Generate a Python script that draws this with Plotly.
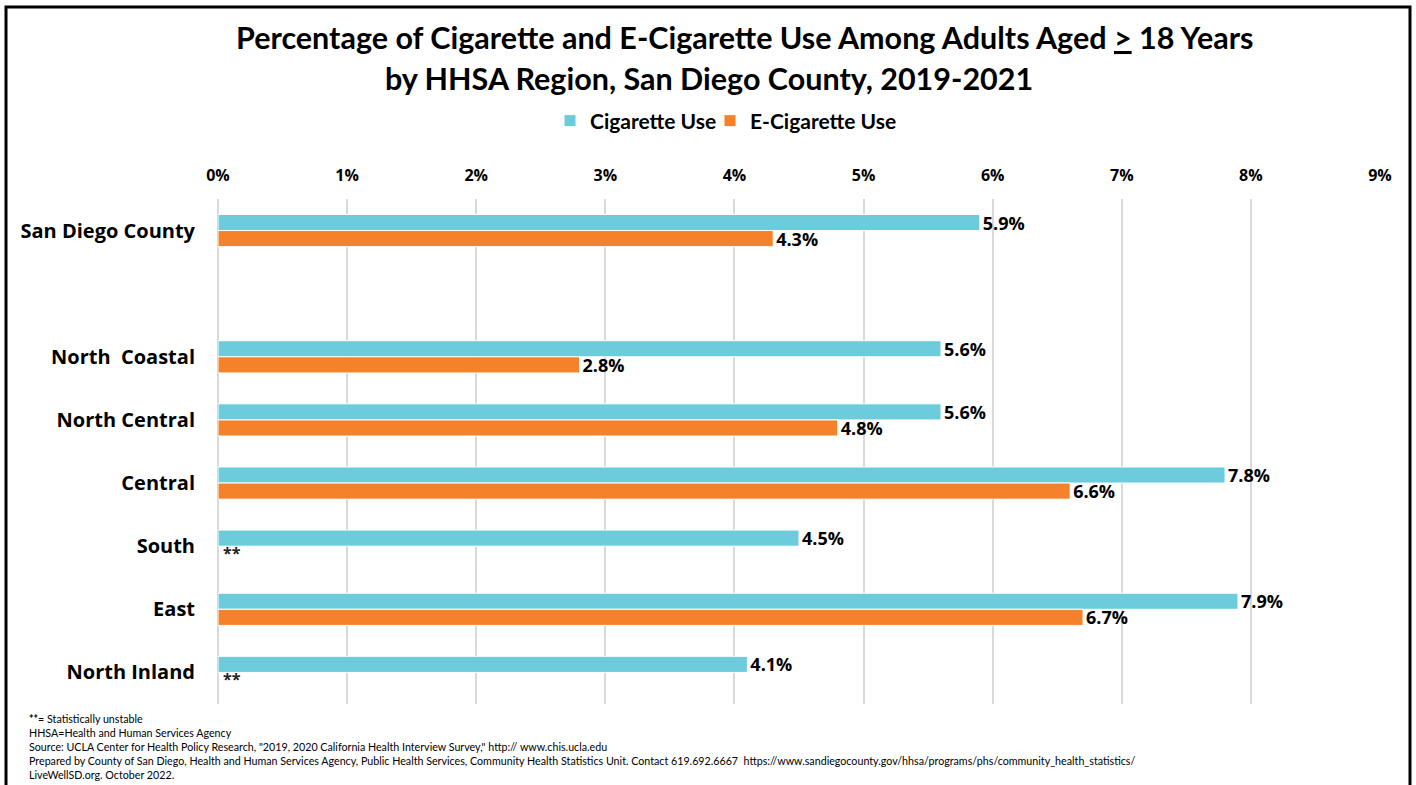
import plotly.graph_objects as go

# ---------------- data ----------------
categories = ["San Diego County", " ", "North\u00a0 Coastal", "North Central",
              "Central", "South", "East", "North Inland"]
cigarette_use = [5.9, None, 5.6, 5.6, 7.8, 4.5, 7.9, 4.1]
ecigarette_use = [4.3, None, 2.8, 4.8, 6.6, None, 6.7, None]
unstable_ecig = [False, False, False, False, False, True, False, True]
tick_values = [0, 1, 2, 3, 4, 5, 6, 7, 8, 9]
tick_labels = ["0%", "1%", "2%", "3%", "4%", "5%", "6%", "7%", "8%", "9%"]
series_names = ["Cigarette Use", "E-Cigarette Use"]

footnotes = [
    "<b>**</b>= Statistically unstable",
    "HHSA=Health and Human Services Agency",
    "Source: UCLA Center for Health Policy Research, \"2019, 2020 California Health Interview Survey,\" http:// www.chis.ucla.edu",
    "Prepared by County of San Diego, Health and Human Services Agency, Public Health Services, Community Health Statistics Unit. Contact 619.692.6667&nbsp; https://www.sandiegocounty.gov/hhsa/programs/phs/community_health_statistics/",
    "LiveWellSD.org. October 2022.",
]

# ---------------- layout geometry (pixels) ----------------
W, H = 1416, 785
ML, MR, MT, MB = 218, 36, 199, 81
PW, PH = W - ML - MR, H - MT - MB


def px(x):
    return (x - ML) / PW


def py(y):
    return (H - MB - y) / PH


CYAN = "#6DCCDC"
ORANGE = "#F5822A"
TITLE_FONT = "Lato, Carlito, sans-serif"
LABEL_FONT = "Open Sans, sans-serif"


def fmt(v):
    return "" if v is None else f"{v}%"


fig = go.Figure()
for name, vals, col, leg in [(series_names[0], cigarette_use, CYAN, "legend"),
                             (series_names[1], ecigarette_use, ORANGE, "legend2")]:
    fig.add_trace(go.Bar(
        y=categories, x=vals, orientation="h", name=name, legend=leg,
        marker=dict(color=col, line=dict(color="white", width=1)),
        text=[fmt(v) for v in vals], textposition="outside",
        constraintext="none",
        textfont=dict(family=LABEL_FONT, size=18, color="black", weight="bold"),
        cliponaxis=False,
    ))

annotations = []
for cat, flag in zip(categories, unstable_ecig):
    if flag:
        annotations.append(dict(
            x=0, y=cat, xref="x", yref="y", text="**", showarrow=False,
            xanchor="left", yanchor="middle", xshift=3, yshift=-7,
            font=dict(family=LABEL_FONT, size=16, color="#222", weight="bold"),
        ))

annotations.append(dict(
    x=px(744), y=py(37), xref="paper", yref="paper", showarrow=False,
    xanchor="center", yanchor="middle",
    text="<b>Percentage of Cigarette and E-Cigarette Use Among Adults Aged <u>&gt;</u> 18 Years</b>",
    font=dict(family=TITLE_FONT, size=30.5, color="black"),
))
annotations.append(dict(
    x=px(709), y=py(78), xref="paper", yref="paper", showarrow=False,
    xanchor="center", yanchor="middle",
    text="<b>by HHSA Region, San Diego County, 2019-2021</b>",
    font=dict(family=TITLE_FONT, size=30.5, color="black"),
))
annotations.append(dict(
    x=px(27), y=py(710), xref="paper", yref="paper", showarrow=False,
    xanchor="left", yanchor="top", align="left",
    text="<br>".join(footnotes),
    font=dict(family=TITLE_FONT, size=10.7, color="black"),
))

legend_style = dict(orientation="h", xanchor="left", yanchor="middle",
                    y=py(121), bgcolor="rgba(0,0,0,0)",
                    font=dict(family=TITLE_FONT, size=21, color="black", weight="bold"),
                    itemwidth=30)

fig.update_layout(
    width=W, height=H,
    margin=dict(l=ML, r=MR, t=MT, b=MB, autoexpand=False),
    paper_bgcolor="white", plot_bgcolor="white",
    barmode="group", bargap=0.49, bargroupgap=0,
    showlegend=True,
    legend=dict(x=px(550), **legend_style),
    legend2=dict(x=px(710), **legend_style),
    annotations=annotations,
    shapes=[dict(type="rect", xref="paper", yref="paper",
                 x0=px(6), x1=px(1410), y0=py(820), y1=py(7),
                 line=dict(color="black", width=3), fillcolor="rgba(0,0,0,0)",
                 layer="above")],
    font=dict(family=LABEL_FONT),
)

fig.update_xaxes(
    side="top", range=[0, 9], tickvals=tick_values, ticktext=tick_labels,
    showgrid=True, gridcolor="#D9D9D9", gridwidth=1.5,
    zeroline=True, zerolinecolor="#D9D9D9", zerolinewidth=1.5,
    showline=False, ticks="", ticklabelstandoff=14,
    tickfont=dict(family=LABEL_FONT, size=16, color="black", weight="bold"),
    fixedrange=True,
)
fig.update_yaxes(
    type="category", categoryorder="array", categoryarray=categories,
    autorange="reversed", showgrid=False, zeroline=False, showline=False,
    ticks="", ticklabelstandoff=22,
    tickfont=dict(family=LABEL_FONT, size=20, color="black", weight="bold"),
    fixedrange=True,
)

fig.write_html(
    "out.html",
    config={"displayModeBar": False},
    post_script="document.body.style.margin='0';document.body.style.overflow='hidden';",
)
